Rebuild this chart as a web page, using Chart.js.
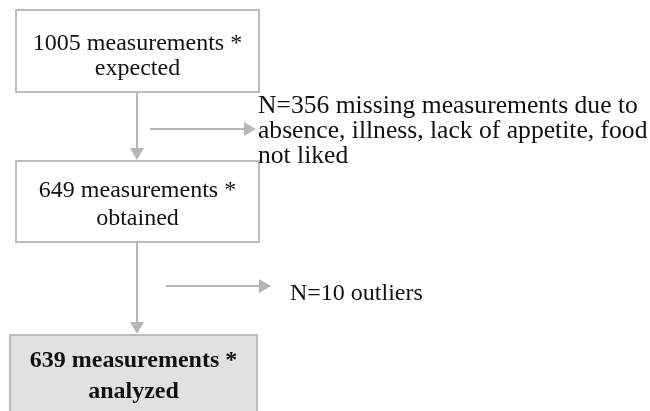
<!DOCTYPE html>
<html>
<head>
<meta charset="utf-8">
<script src="https://cdn.jsdelivr.net/npm/chart.js@4.4.1/dist/chart.umd.min.js"></script>
<style>
  html, body { margin: 0; padding: 0; background: #fff; }
  #wrap { width: 650px; height: 411px; }
</style>
</head>
<body>
<div id="wrap"><canvas id="flowChart"></canvas></div>
<script>
// flow data
const stageCounts = [1005, 649, 639];
const stageLabels = ["expected", "obtained", "analyzed"];
const exclusionNotes = [
  ["N=356 missing measurements due to", "absence, illness, lack of appetite, food", "not liked"],
  ["N=10 outliers"]
];

// layout in diagram units (axis 0..650 x 0..411, y downwards)
const boxLayout = [
  { x0: 16, x1: 259, y0: 10, y1: 92, lines: [50, 75] },
  { x0: 16, x1: 259, y0: 161, y1: 242, lines: [197, 225] },
  { x0: 10, x1: 257, y0: 335, y1: 414, lines: [367, 398] }
];
const noteLayout = [
  { x: 258, lines: [113, 138, 163], size: 25.6 },
  { x: 290, lines: [300], size: 24 }
];
const arrowLayout = [
  { from: [137, 92], to: [137, 160] },
  { from: [150, 129], to: [256, 129] },
  { from: [137, 242], to: [137, 334] },
  { from: [166, 286], to: [271, 286] }
];

const lineGray = "#b5b5b5";
const headR = 8;
const serif = "'Times New Roman', 'Liberation Serif', Tinos, serif";

function arrowDataset(a) {
  let dx = a.to[0] - a.from[0];
  let dy = a.to[1] - a.from[1];
  let len = Math.sqrt(dx * dx + dy * dy);
  let end = { x: a.to[0] - dx / len * headR, y: a.to[1] - dy / len * headR };
  let angle = Math.atan2(dx, -dy) * 180 / Math.PI;
  return {
    type: "scatter",
    data: [{ x: a.from[0], y: a.from[1] }, end],
    showLine: true,
    borderColor: lineGray,
    borderWidth: 2,
    pointStyle: "triangle",
    pointRadius: [0, headR],
    pointRotation: [0, angle],
    pointBackgroundColor: lineGray,
    pointBorderWidth: 0,
    pointBorderColor: lineGray
  };
}

const boxesPlugin = {
  id: "boxes",
  beforeDatasetsDraw(chart) {
    let c = chart.ctx;
    let xs = chart.scales.x, ys = chart.scales.y;
    c.save();
    boxLayout.forEach((b, i) => {
      let left = xs.getPixelForValue(b.x0), right = xs.getPixelForValue(b.x1);
      let top = ys.getPixelForValue(b.y0), bottom = ys.getPixelForValue(b.y1);
      if (i === 2) {
        c.fillStyle = "#e1e1e1";
        c.fillRect(left, top, right - left, bottom - top);
      }
      c.strokeStyle = "#bcbcbc";
      c.lineWidth = 2;
      c.strokeRect(left, top, right - left, bottom - top);
    });
    c.restore();
  },
  afterDatasetsDraw(chart) {
    let c = chart.ctx;
    let xs = chart.scales.x, ys = chart.scales.y;
    c.save();
    c.fillStyle = "#111";
    c.textAlign = "center";
    c.textBaseline = "alphabetic";
    boxLayout.forEach((b, i) => {
      c.font = (i === 2 ? "bold " : "") + "24px " + serif;
      let cx = xs.getPixelForValue((b.x0 + b.x1) / 2);
      let texts = [stageCounts[i] + " measurements *", stageLabels[i]];
      texts.forEach((t, j) => c.fillText(t, cx, ys.getPixelForValue(b.lines[j])));
    });
    c.textAlign = "left";
    exclusionNotes.forEach((note, i) => {
      let n = noteLayout[i];
      c.font = n.size + "px " + serif;
      note.forEach((t, j) => c.fillText(t, xs.getPixelForValue(n.x), ys.getPixelForValue(n.lines[j])));
    });
    c.restore();
  }
};

let ctx = document.getElementById("flowChart").getContext("2d");
let myChart = new Chart(ctx, {
  type: "scatter",
  data: { datasets: arrowLayout.map(arrowDataset) },
  options: {
    responsive: true,
    maintainAspectRatio: false,
    animation: false,
    events: [],
    layout: { padding: 0, autoPadding: false },
    plugins: { legend: { display: false }, tooltip: { enabled: false } },
    scales: {
      x: { type: "linear", min: 0, max: 650, display: false },
      y: { type: "linear", min: 0, max: 411, reverse: true, display: false }
    }
  },
  plugins: [boxesPlugin]
});
</script>
</body>
</html>
